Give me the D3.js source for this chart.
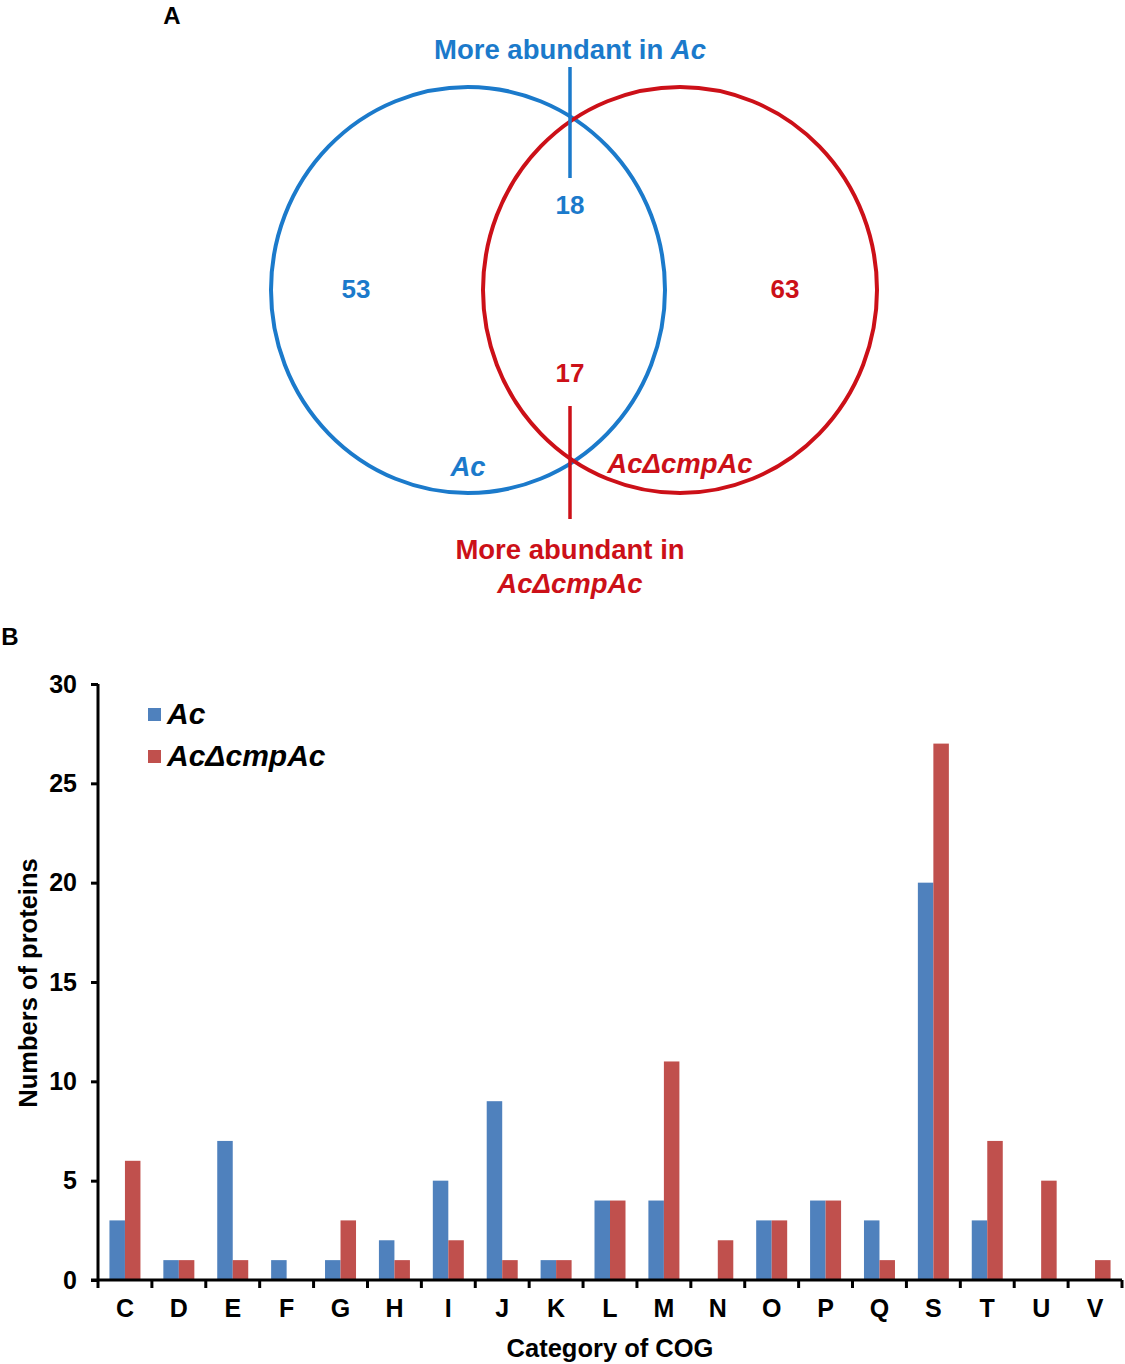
<!DOCTYPE html>
<html>
<head>
<meta charset="utf-8">
<script src="https://cdn.jsdelivr.net/npm/d3@7/dist/d3.min.js"></script>
<style>
  body { margin: 0; background: #fff; }
  svg { display: block; font-family: "Liberation Sans", Arial, sans-serif; }
</style>
</head>
<body>
<svg id="chart" width="1125" height="1364"></svg>
<script>
// ---- Data ----
const categories = ["C","D","E","F","G","H","I","J","K","L","M","N","O","P","Q","S","T","U","V"];
const acValues   = [3,1,7,1,1,2,5,9,1,4,4,0,3,4,3,20,3,0,0];
const mutValues  = [6,1,1,0,3,1,2,1,1,4,11,2,3,4,1,27,7,5,1];
const seriesNames = ["Ac", "AcΔcmpAc"];
const yTicks = [0,5,10,15,20,25,30];
const vennCounts = { onlyAc: 53, onlyMut: 63, upAc: 18, upMut: 17 };

const svg = d3.select("#chart");
const blueV = "#1b7acb", redV = "#cc1018";
const blueB = "#4f81bd", redB = "#c0504d";

// ---- Panel A: Venn ----
svg.append("text").attr("x", 172).attr("y", 24).attr("text-anchor","middle")
  .attr("font-size", 24).attr("font-weight","bold").text("A");

const circles = [
  {cx: 468, cy: 290, rx: 197, ry: 203, color: blueV},
  {cx: 680, cy: 290, rx: 197, ry: 203, color: redV}
];
svg.selectAll("ellipse.venn").data(circles).enter().append("ellipse")
  .attr("class","venn").attr("cx", d=>d.cx).attr("cy", d=>d.cy)
  .attr("rx", d=>d.rx).attr("ry", d=>d.ry)
  .attr("fill","none").attr("stroke", d=>d.color).attr("stroke-width", 4);

// vertical marker lines
svg.append("line").attr("x1",570).attr("x2",570).attr("y1",67).attr("y2",178)
  .attr("stroke", blueV).attr("stroke-width",3.5);
svg.append("line").attr("x1",570).attr("x2",570).attr("y1",406).attr("y2",519)
  .attr("stroke", redV).attr("stroke-width",3.5);

const vfs = 27.5;
const tTop = svg.append("text").attr("x",570).attr("y",59).attr("text-anchor","middle")
  .attr("font-size",vfs).attr("font-weight","bold").attr("fill",blueV);
tTop.append("tspan").text("More abundant in ");
tTop.append("tspan").attr("font-style","italic").text("Ac");

const numTexts = [
  {x:356, y:298, t:vennCounts.onlyAc, c:blueV},
  {x:785, y:298, t:vennCounts.onlyMut, c:redV},
  {x:570, y:214, t:vennCounts.upAc, c:blueV},
  {x:570, y:382, t:vennCounts.upMut, c:redV}
];
svg.selectAll("text.num").data(numTexts).enter().append("text").attr("class","num")
  .attr("x",d=>d.x).attr("y",d=>d.y).attr("text-anchor","middle")
  .attr("font-size",26).attr("font-weight","bold").attr("fill",d=>d.c).text(d=>d.t);

svg.append("text").attr("x",468).attr("y",476).attr("text-anchor","middle")
  .attr("font-size",vfs).attr("font-weight","bold").attr("font-style","italic")
  .attr("fill",blueV).text(seriesNames[0]);
svg.append("text").attr("x",680).attr("y",473).attr("text-anchor","middle")
  .attr("font-size",vfs).attr("font-weight","bold").attr("font-style","italic")
  .attr("fill",redV).text(seriesNames[1]);

svg.append("text").attr("x",570).attr("y",559).attr("text-anchor","middle")
  .attr("font-size",vfs).attr("font-weight","bold").attr("fill",redV).text("More abundant in");
svg.append("text").attr("x",570).attr("y",593).attr("text-anchor","middle")
  .attr("font-size",vfs).attr("font-weight","bold").attr("font-style","italic")
  .attr("fill",redV).text(seriesNames[1]);

// ---- Panel B: Bars ----
svg.append("text").attr("x",10).attr("y",645).attr("text-anchor","middle")
  .attr("font-size",24).attr("font-weight","bold").text("B");

const x0 = 98, x1 = 1122, yTop = 684, yBot = 1280;
const x = d3.scaleBand().domain(categories).range([x0, x1]).paddingInner(0).paddingOuter(0);
const y = d3.scaleLinear().domain([0,30]).range([yBot, yTop]);
const barW = 15.5;

const g = svg.append("g");
const rows = categories.map((c,i)=>({c, a: acValues[i], m: mutValues[i]}));

g.selectAll("rect.ac").data(rows).enter().append("rect")
  .attr("x", d=> x(d.c) + x.bandwidth()/2 - barW)
  .attr("width", barW)
  .attr("y", d=> y(d.a)).attr("height", d=> yBot - y(d.a))
  .attr("fill", blueB);
g.selectAll("rect.mut").data(rows).enter().append("rect")
  .attr("x", d=> x(d.c) + x.bandwidth()/2)
  .attr("width", barW)
  .attr("y", d=> y(d.m)).attr("height", d=> yBot - y(d.m))
  .attr("fill", redB);

// Y axis
const yAxis = d3.axisLeft(y).tickValues(yTicks).tickSize(7).tickPadding(14).tickFormat(d3.format("d"));
const ya = svg.append("g").attr("transform",`translate(${x0},0)`).call(yAxis);
ya.select(".domain").attr("stroke","#000").attr("stroke-width",3).attr("d", `M0,${yTop}V${yBot}`);
ya.selectAll(".tick line").attr("stroke","#000").attr("stroke-width",3);
ya.selectAll(".tick text").attr("font-size",25).attr("font-weight","bold")
  .attr("font-family","Liberation Sans, Arial, sans-serif").attr("fill","#000");

// X axis
const xAxis = d3.axisBottom(x).tickSize(0).tickPadding(19);
const xa = svg.append("g").attr("transform",`translate(0,${yBot})`).call(xAxis);
xa.select(".domain").attr("stroke","#000").attr("stroke-width",3).attr("d", `M${x0-7},0H${x1}`);
xa.selectAll(".tick text").attr("font-size",25).attr("font-weight","bold")
  .attr("font-family","Liberation Sans, Arial, sans-serif").attr("fill","#000");
// boundary ticks
const bounds = categories.map(c=>x(c)).concat([x1]);
xa.selectAll("line.bt").data(bounds).enter().append("line").attr("class","bt")
  .attr("x1",d=>d).attr("x2",d=>d).attr("y1",0).attr("y2",8)
  .attr("stroke","#000").attr("stroke-width",3);

// Axis titles
svg.append("text").attr("transform","translate(37,983) rotate(-90)").attr("text-anchor","middle")
  .attr("font-size",25.5).attr("font-weight","bold").text("Numbers of proteins");
svg.append("text").attr("x",610).attr("y",1357).attr("text-anchor","middle")
  .attr("font-size",25.5).attr("font-weight","bold").text("Category of COG");

// Legend
const legend = svg.append("g");
const legItems = [{n: seriesNames[0], c: blueB, y: 714}, {n: seriesNames[1], c: redB, y: 756}];
legend.selectAll("rect").data(legItems).enter().append("rect")
  .attr("x",148).attr("y",d=>d.y-6).attr("width",13).attr("height",13).attr("fill",d=>d.c);
legend.selectAll("text").data(legItems).enter().append("text")
  .attr("x",167).attr("y",d=>d.y+10).attr("font-size",30).attr("font-weight","bold")
  .attr("font-style","italic").text(d=>d.n);
</script>
</body>
</html>
